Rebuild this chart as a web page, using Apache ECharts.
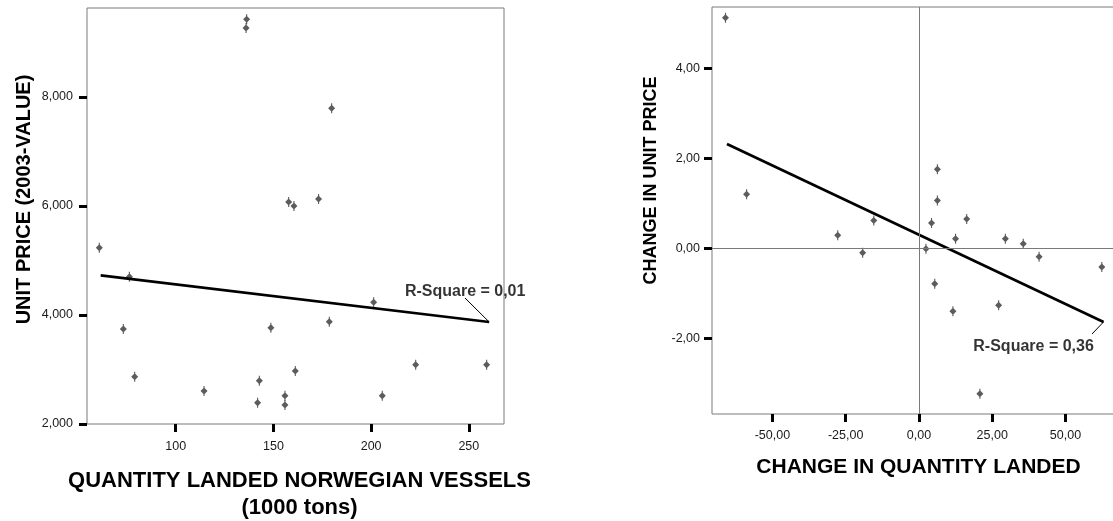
<!DOCTYPE html>
<html>
<head>
<meta charset="utf-8">
<script src="https://cdn.jsdelivr.net/npm/echarts@6/dist/echarts.min.js"></script>
<style>
html,body{margin:0;padding:0;background:#fff;}
#chart{width:1113px;height:521px;}
</style>
</head>
<body>
<div id="chart"></div>
<script>
// ---- Left panel data ----
const leftQty = [136.3,136.0,157.8,160.5,60.9,76.3,73.2,79.0,114.5,142.8,141.9,148.7,155.9,155.9,161.2,179.8,173.1,201.3,178.6,222.8,259.1,205.7];
const leftPrice = [9426,9266,6073,6000,5235,4703,3743,2868,2606,2794,2391,3767,2519,2349,2972,7793,6128,4233,3877,3088,3088,2519];
const leftFitQty = [61.6, 260.4];
const leftFitPrice = [4728, 3872];
const leftXTicks = [100,150,200,250];
const leftXTickLabels = ['100','150','200','250'];
const leftYTicks = [2000,4000,6000,8000];
const leftYTickLabels = ['2,000','4,000','6,000','8,000'];
const leftRSquare = 'R-Square = 0,01';

// ---- Right panel data ----
const chgQty = [-66.0,-58.8,-27.7,-19.2,-15.4,6.3,6.3,4.3,16.3,12.5,29.5,35.6,2.4,41.0,62.4,5.4,11.6,27.2,20.8];
const chgPrice = [5.13,1.20,0.29,-0.10,0.62,1.76,1.06,0.56,0.65,0.21,0.21,0.10,-0.01,-0.19,-0.42,-0.79,-1.40,-1.27,-3.24];
const rightFitQty = [-65.5, 63.0];
const rightFitPrice = [2.32, -1.64];
const rightXTicks = [-50,-25,0,25,50];
const rightXTickLabels = ['-50,00','-25,00','0,00','25,00','50,00'];
const rightYTicks = [-2,0,2,4];
const rightYTickLabels = ['-2,00','0,00','2,00','4,00'];
const rightRSquare = 'R-Square = 0,36';

const FONT = "'Liberation Sans', Arial, sans-serif";
const markerPath = 'path://M4.3,0 L5.7,0 L5.7,2.4 L9.4,6 L5.7,9.6 L5.7,12 L4.3,12 L4.3,9.6 L0.6,6 L4.3,2.4 Z';

function zip(a, b){ return a.map((v,i)=>[v,b[i]]); }
function fmt(ticks, labels){ return v => { const i = ticks.findIndex(t => Math.abs(t - v) < 1e-9); return i >= 0 ? labels[i] : ''; }; }

function xAxisCfg(gridIndex, min, max, ticks, labels, name, nameGap, labelMargin, nameSize, namePad){
  return {
    type:'value', gridIndex, min, max,
    axisLine:{show:false, onZero:false},
    splitLine:{show:false},
    axisTick:{show:true, inside:false, length:8, customValues:ticks, lineStyle:{color:'#000', width:3}},
    axisLabel:{show:true, customValues:ticks, formatter:fmt(ticks, labels), margin:labelMargin, color:'#1a1a1a', fontSize:12.5, fontFamily:FONT},
    name, nameLocation:'middle', nameGap,
    nameTextStyle:{fontSize:nameSize, fontWeight:'bold', color:'#000', fontFamily:FONT, lineHeight:27, padding:namePad}
  };
}
function yAxisCfg(gridIndex, min, max, ticks, labels, name, nameGap, labelMargin, pad, nameSize){
  return {
    type:'value', gridIndex, min, max,
    axisLine:{show:false, onZero:false},
    splitLine:{show:false},
    axisTick:{show:true, inside:false, length:8, customValues:ticks, lineStyle:{color:'#000', width:3}},
    axisLabel:{show:true, customValues:ticks, formatter:fmt(ticks, labels), margin:labelMargin, color:'#1a1a1a', fontSize:12.5, fontFamily:FONT},
    name, nameLocation:'middle', nameGap,
    nameTextStyle:{fontSize:nameSize, fontWeight:'bold', color:'#000', fontFamily:FONT, padding:[0,0,0,pad]}
  };
}

const scatterStyle = {color:'#333'};
const labelStyle = {show:true, position:'inside', fontSize:16, fontWeight:'bold', color:'#000', fontFamily:FONT};
const chart = echarts.init(document.getElementById('chart'), null, {renderer:'canvas'});
chart.setOption({
  animation:false,
  backgroundColor:'#fff',
  grid:[
    {left:87, top:8, width:417, height:416, show:true, borderColor:'#7a7a7a', borderWidth:1, backgroundColor:'transparent', containLabel:false, outerBoundsMode:'none'},
    {left:712, top:7, width:403, height:407, show:true, borderColor:'#7a7a7a', borderWidth:1, backgroundColor:'transparent', containLabel:false, outerBoundsMode:'none'}
  ],
  xAxis:[
    xAxisCfg(0, 54.6, 268, leftXTicks, leftXTickLabels, 'QUANTITY LANDED NORWEGIAN VESSELS\n(1000 tons)', 43, 16, 22, [0,0,0,8]),
    xAxisCfg(1, -70.6, 66.9, rightXTicks, rightXTickLabels, 'CHANGE IN QUANTITY LANDED', 40, 15, 21, [0,0,0,10])
  ],
  yAxis:[
    yAxisCfg(0, 2000, 9633, leftYTicks, leftYTickLabels, 'UNIT PRICE (2003-VALUE)', 53, 14, 33, 20),
    yAxisCfg(1, -3.69, 5.37, rightYTicks, rightYTickLabels, 'CHANGE IN UNIT PRICE', 52, 12, 60, 18)
  ],
  series:[
    {type:'scatter', xAxisIndex:0, yAxisIndex:0, data:zip(leftQty, leftPrice), symbol:markerPath, symbolSize:[7,10], itemStyle:scatterStyle, silent:true},
    {type:'line', xAxisIndex:0, yAxisIndex:0, data:zip(leftFitQty, leftFitPrice), symbol:'none', lineStyle:{color:'#000', width:2.7}, silent:true},
    {type:'scatter', xAxisIndex:0, yAxisIndex:0, data:[[leftFitQty[1], leftFitPrice[1]]], symbolSize:0, silent:true,
      label:Object.assign({formatter:leftRSquare}, labelStyle),
      labelLayout:{dx:-24, dy:-30},
      markLine:{silent:true, symbol:'none', label:{show:false}, lineStyle:{color:'#000', width:1, type:'solid'},
        data:[[{coord:[leftFitQty[1], leftFitPrice[1]]}, {x:465, y:298}]]}},
    {type:'scatter', xAxisIndex:1, yAxisIndex:1, data:zip(chgQty, chgPrice), symbol:markerPath, symbolSize:[7,10], itemStyle:scatterStyle, silent:true,
      markLine:{silent:true, symbol:'none', label:{show:false}, lineStyle:{color:'#7a7a7a', width:1, type:'solid'},
        data:[{xAxis:0},{yAxis:0}]}},
    {type:'line', xAxisIndex:1, yAxisIndex:1, data:zip(rightFitQty, rightFitPrice), symbol:'none', lineStyle:{color:'#000', width:2.7}, silent:true},
    {type:'scatter', xAxisIndex:1, yAxisIndex:1, data:[[rightFitQty[1], rightFitPrice[1]]], symbolSize:0, silent:true,
      label:Object.assign({formatter:rightRSquare}, labelStyle),
      labelLayout:{dx:-70, dy:25},
      markLine:{silent:true, symbol:'none', label:{show:false}, lineStyle:{color:'#000', width:1, type:'solid'},
        data:[[{coord:[rightFitQty[1], rightFitPrice[1]]}, {x:1092, y:334}]]}}
  ]
});
</script>
</body>
</html>
